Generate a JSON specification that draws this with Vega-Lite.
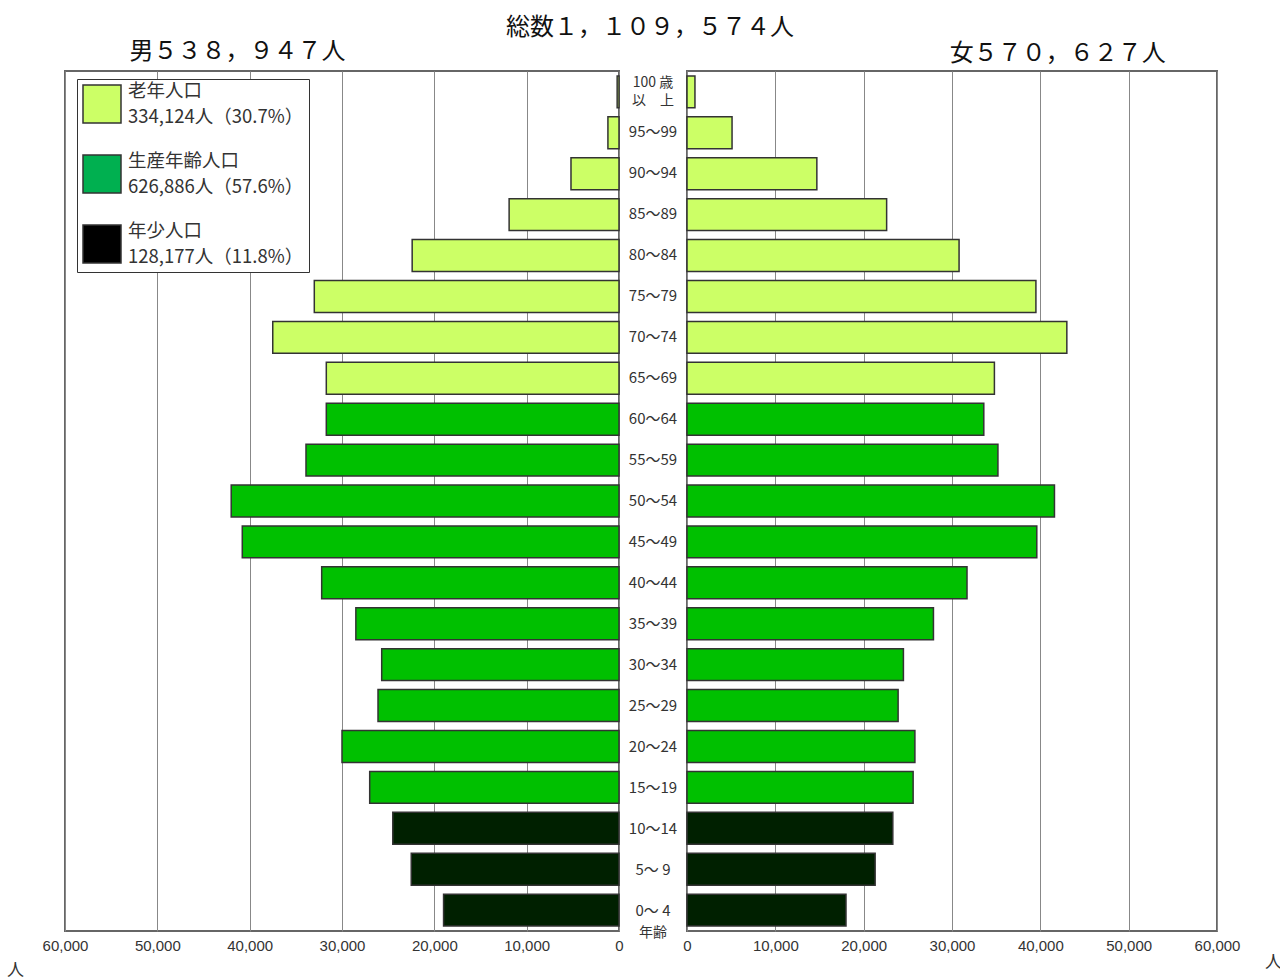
{
  "$schema": "https://vega.github.io/schema/vega-lite/v6.json",
  "background": "white",
  "padding": {"left": 5, "top": 16, "right": 0, "bottom": 0},
  "bounds": "flush",
  "spacing": 0,
  "title": {"text": "総数１，１０９，５７４人", "font": "Noto Sans CJK JP", "fontSize": 24, "fontWeight": "normal", "color": "#111", "anchor": "middle", "dx": 6, "offset": -1},
  "config": {
    "view": {"stroke": "#666", "strokeWidth": 2},
    "axis": {
      "labelFont": "Liberation Sans", "labelFontSize": 15, "labelColor": "#333", "labelPadding": 7,
      "ticks": false, "domain": false, "grid": true, "gridColor": "#888", "gridWidth": 1,
      "labelFlush": false, "labelOverlap": false,
      "titleFont": "Noto Sans CJK JP", "titleFontSize": 17, "titleFontWeight": "normal", "titleColor": "#333",
      "titleAlign": "center", "titleBaseline": "middle", "titleAngle": 0
    },
    "title": {"font": "Noto Sans CJK JP", "fontWeight": "normal", "color": "#111"}
  },
  "datasets": {
    "pop": [
      {"age": "100+", "label": "100 歳\n以　上", "group": "老年人口", "male": 200, "female": 900},
      {"age": "95-99", "label": "95～99", "group": "老年人口", "male": 1200, "female": 5100},
      {"age": "90-94", "label": "90～94", "group": "老年人口", "male": 5200, "female": 14700},
      {"age": "85-89", "label": "85～89", "group": "老年人口", "male": 11900, "female": 22600},
      {"age": "80-84", "label": "80～84", "group": "老年人口", "male": 22400, "female": 30800},
      {"age": "75-79", "label": "75～79", "group": "老年人口", "male": 33000, "female": 39500},
      {"age": "70-74", "label": "70～74", "group": "老年人口", "male": 37500, "female": 43000},
      {"age": "65-69", "label": "65～69", "group": "老年人口", "male": 31700, "female": 34800},
      {"age": "60-64", "label": "60～64", "group": "生産年齢人口", "male": 31700, "female": 33600},
      {"age": "55-59", "label": "55～59", "group": "生産年齢人口", "male": 33900, "female": 35200},
      {"age": "50-54", "label": "50～54", "group": "生産年齢人口", "male": 42000, "female": 41600},
      {"age": "45-49", "label": "45～49", "group": "生産年齢人口", "male": 40800, "female": 39600},
      {"age": "40-44", "label": "40～44", "group": "生産年齢人口", "male": 32200, "female": 31700},
      {"age": "35-39", "label": "35～39", "group": "生産年齢人口", "male": 28500, "female": 27900},
      {"age": "30-34", "label": "30～34", "group": "生産年齢人口", "male": 25700, "female": 24500},
      {"age": "25-29", "label": "25～29", "group": "生産年齢人口", "male": 26100, "female": 23900},
      {"age": "20-24", "label": "20～24", "group": "生産年齢人口", "male": 30000, "female": 25800},
      {"age": "15-19", "label": "15～19", "group": "生産年齢人口", "male": 27000, "female": 25600},
      {"age": "10-14", "label": "10～14", "group": "年少人口", "male": 24500, "female": 23300},
      {"age": "5-9", "label": "5～ 9", "group": "年少人口", "male": 22500, "female": 21300},
      {"age": "0-4", "label": "0～ 4", "group": "年少人口", "male": 19000, "female": 18000}
    ]
  },
  "hconcat": [
    {
      "width": 554, "height": 860,
      "data": {"name": "pop"},
      "title": {"text": "男５３８，９４７人", "anchor": "start", "dx": 123, "offset": 7, "fontSize": 24},
      "layer": [
        {
          "mark": {"type": "bar", "stroke": "#333", "strokeWidth": 1.5},
          "encoding": {
            "y": {"field": "age", "type": "nominal", "axis": null,
              "scale": {"domain": ["100+","95-99","90-94","85-89","80-84","75-79","70-74","65-69","60-64","55-59","50-54","45-49","40-44","35-39","30-34","25-29","20-24","15-19","10-14","5-9","0-4"], "paddingInner": 0.22, "paddingOuter": 0.12}},
            "x": {"field": "male", "type": "quantitative",
              "scale": {"domain": [0, 60000], "reverse": true, "nice": false},
              "axis": {"values": [0, 10000, 20000, 30000, 40000, 50000, 60000], "format": ",.0f", "title": "人", "titleX": -50, "titleY": 39}},
            "fill": {"field": "group", "type": "nominal", "legend": null,
              "scale": {"domain": ["老年人口", "生産年齢人口", "年少人口"], "range": ["#ccff66", "#00c000", "#002000"]}}
          }
        },
        {
          "transform": [{"filter": "false"}],
          "mark": {"type": "bar"},
          "encoding": {
            "color": {"field": "legendLabel", "type": "nominal",
              "scale": {"domain": ["老年人口|334,124人（30.7%）", "生産年齢人口|626,886人（57.6%）", "年少人口|128,177人（11.8%）"], "range": ["#ccff66", "#00b050", "#000000"]},
              "legend": {
                "title": null, "orient": "none", "legendX": 12, "legendY": 8,
                "symbolType": "square", "symbolSize": 1444, "symbolStrokeColor": "#333", "symbolStrokeWidth": 1.5,
                "labelExpr": "split(datum.label, '|')", "labelFont": "Noto Sans CJK JP", "labelFontSize": 18.5, "labelColor": "#333", "labelLimit": 0, "labelOffset": 6,
                "rowPadding": 25, "padding": 5, "strokeColor": "#333", "fillColor": "white",
                "encode": {"labels": {"update": {"lineHeight": {"value": 26}, "dy": {"value": -13}}}}
              }}
          }
        }
      ]
    },
    {
      "width": 68, "height": 860,
      "view": {"stroke": null},
      "data": {"name": "pop"},
      "title": {"text": "年齢", "orient": "bottom", "frame": "group", "offset": -5, "fontSize": 14, "color": "#333"},
      "encoding": {
        "y": {"field": "age", "type": "nominal", "axis": null,
          "scale": {"domain": ["100+","95-99","90-94","85-89","80-84","75-79","70-74","65-69","60-64","55-59","50-54","45-49","40-44","35-39","30-34","25-29","20-24","15-19","10-14","5-9","0-4"], "paddingInner": 0.22, "paddingOuter": 0.12}},
        "text": {"field": "label", "type": "nominal"}
      },
      "layer": [
        {
          "transform": [{"filter": "datum.age != '100+'"}],
          "mark": {"type": "text", "font": "Noto Sans CJK JP", "fontSize": 15, "color": "#333"}
        },
        {
          "transform": [{"filter": "datum.age == '100+'"}],
          "mark": {"type": "text", "lineBreak": "\n", "font": "Noto Sans CJK JP", "fontSize": 14, "color": "#333", "lineHeight": 18, "dy": -8}
        }
      ]
    },
    {
      "width": 530, "height": 860,
      "data": {"name": "pop"},
      "title": {"text": "女５７０，６２７人", "anchor": "start", "dx": 267, "offset": 5, "fontSize": 24},
      "mark": {"type": "bar", "stroke": "#333", "strokeWidth": 1.5},
      "encoding": {
        "y": {"field": "age", "type": "nominal", "axis": null,
          "scale": {"domain": ["100+","95-99","90-94","85-89","80-84","75-79","70-74","65-69","60-64","55-59","50-54","45-49","40-44","35-39","30-34","25-29","20-24","15-19","10-14","5-9","0-4"], "paddingInner": 0.22, "paddingOuter": 0.12}},
        "x": {"field": "female", "type": "quantitative",
          "scale": {"domain": [0, 60000], "nice": false},
          "axis": {"values": [0, 10000, 20000, 30000, 40000, 50000, 60000], "format": ",.0f", "title": "人", "titleX": 586, "titleY": 31}},
        "fill": {"field": "group", "type": "nominal", "legend": null,
          "scale": {"domain": ["老年人口", "生産年齢人口", "年少人口"], "range": ["#ccff66", "#00c000", "#002000"]}}
      }
    }
  ]
}
